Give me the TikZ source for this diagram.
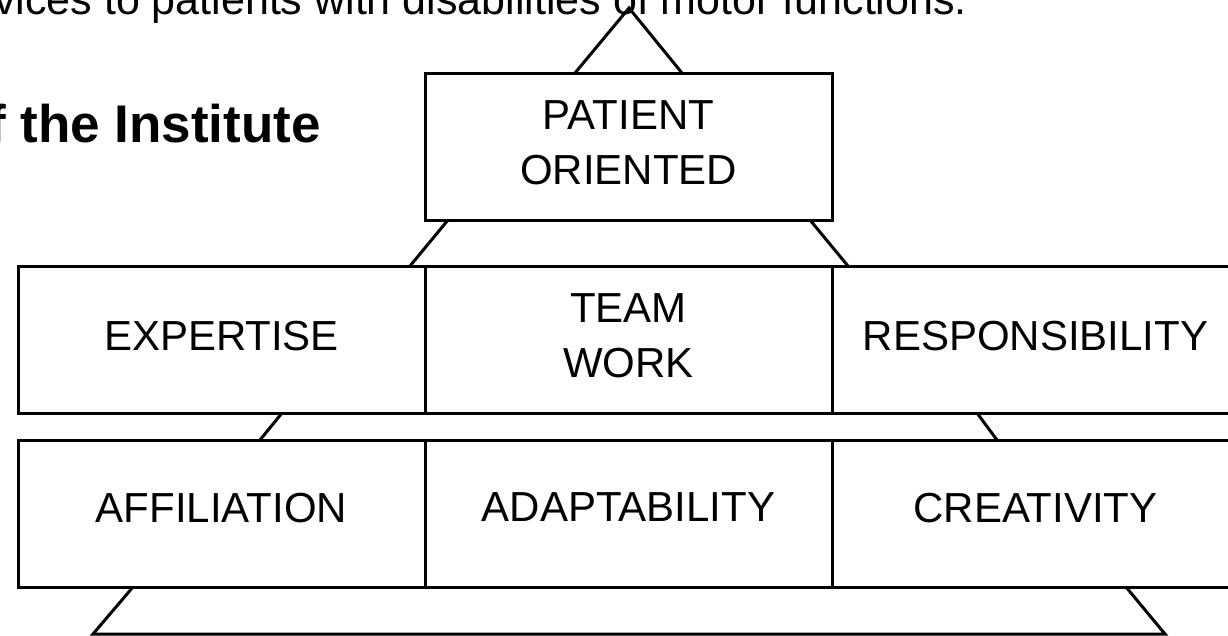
\documentclass[tikz,border=0pt]{standalone}
\usepackage{fontspec}
\setmainfont{Liberation Sans}
\usetikzlibrary{positioning}

\tikzstyle{cell} = [draw, line width=3pt, minimum width=407pt, minimum height=147pt, inner sep=0pt, outer sep=0pt, align=center, text depth=8pt, font=\fontsize{42}{55}\selectfont]
\tikzstyle{link} = [line width=3pt]

\begin{document}
\begin{tikzpicture}[x=1pt, y=-1pt]
  \useasboundingbox (0,0) rectangle (1228,635);
  \clip (0,0) rectangle (1228,635);
  \tikzset{heading/.style={inner sep=0pt, anchor=base west}}

  \node[heading, font=\fontsize{43}{52}\selectfont] (subtitle) at (-6,14) {vices to patients with disabilities of motor functions.};
  \node[heading, anchor=base east, font=\fontsize{53}{64}\selectfont\bfseries] (title) at (321,142) {f the Institute};

  \node[cell, anchor=north west] (expertise) at (18,266) {EXPERTISE};
  \node[cell, right=0pt of expertise] (teamwork) {TEAM\\WORK};
  \node[cell, right=0pt of teamwork] (responsibility) {RESPONSIBILITY};
  \node[cell, above=46pt of teamwork] (patient) {PATIENT\\ORIENTED};
  \node[cell, below=27pt of expertise, text depth=12pt] (affiliation) {AFFILIATION};
  \node[cell, right=0pt of affiliation, text depth=12pt] (adaptability) {ADAPTABILITY};
  \node[cell, right=0pt of adaptability, text depth=12pt] (creativity) {CREATIVITY};

  \coordinate (apex) at (629,8);
  \coordinate (baseL) at (93,634);
  \coordinate (baseR) at (1165,634);

  \draw[link] ([xshift=150pt]patient.north west) -- (apex) -- ([xshift=-150pt]patient.north east);
  \draw[link] ([xshift=23pt]patient.south west) -- ([xshift=-15pt]expertise.north east);
  \draw[link] ([xshift=-22pt]patient.south east) -- ([xshift=16pt]responsibility.north west);
  \draw[link] ([xshift=264pt]expertise.south west) -- ([xshift=242pt]affiliation.north west);
  \draw[link] ([xshift=145pt]responsibility.south west) -- ([xshift=165pt]creativity.north west);
  \draw[link] ([xshift=115pt]affiliation.south west) -- (baseL) -- (baseR) -- ([xshift=294pt]creativity.south west);
\end{tikzpicture}
\end{document}
